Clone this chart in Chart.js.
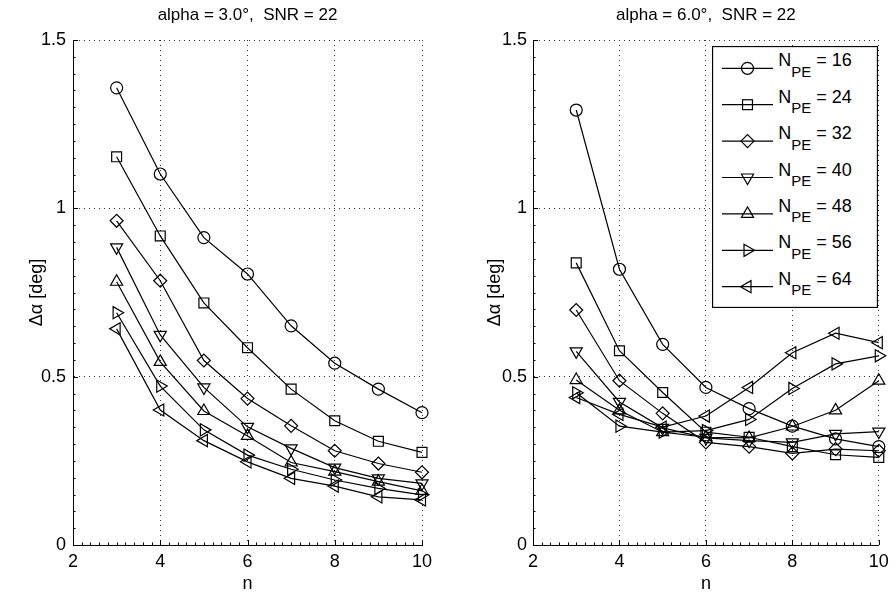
<!DOCTYPE html>
<html>
<head>
<meta charset="utf-8">
<script src="https://cdn.jsdelivr.net/npm/chart.js@4.4.0/dist/chart.umd.min.js"></script>
<style>
  html, body { margin: 0; padding: 0; background: #fff; }
  #wrap { position: relative; width: 895px; height: 595px; overflow: hidden; background: #fff; }
  canvas { position: absolute; top: 0; }
  #c1 { left: 0; }
  #c2 { left: 447px; }
  #legend { position: absolute; left: 712px; top: 46px; }
</style>
</head>
<body>
<div id="wrap">
  <canvas id="c1" width="447" height="595"></canvas>
  <canvas id="c2" width="448" height="595"></canvas>
  <svg id="legend" width="166" height="262" xmlns="http://www.w3.org/2000/svg"></svg>
</div>
<script>
// ---------------- data ----------------
const nValues = [3, 4, 5, 6, 7, 8, 9, 10];
const seriesNames = ['16', '24', '32', '40', '48', '56', '64'];
const xTicks = [2, 4, 6, 8, 10];
const yTicks = [0, 0.5, 1, 1.5];
const panelTitles = ['alpha = 3.0°,  SNR = 22', 'alpha = 6.0°,  SNR = 22'];
const xLabel = 'n';
const yLabel = 'Δα [deg]';

// alpha = 3.0 deg panel
const a3_N16 = [1.358, 1.102, 0.913, 0.805, 0.651, 0.540, 0.463, 0.393];
const a3_N24 = [1.153, 0.918, 0.719, 0.586, 0.463, 0.369, 0.308, 0.275];
const a3_N32 = [0.963, 0.785, 0.548, 0.435, 0.354, 0.280, 0.242, 0.216];
const a3_N40 = [0.884, 0.624, 0.468, 0.351, 0.287, 0.230, 0.198, 0.183];
const a3_N48 = [0.782, 0.544, 0.398, 0.324, 0.245, 0.218, 0.188, 0.161];
const a3_N56 = [0.690, 0.472, 0.342, 0.267, 0.225, 0.193, 0.168, 0.149];
const a3_N64 = [0.642, 0.401, 0.310, 0.247, 0.198, 0.175, 0.143, 0.134];

// alpha = 6.0 deg panel
const a6_N16 = [1.292, 0.819, 0.596, 0.468, 0.405, 0.353, 0.315, 0.292];
const a6_N24 = [0.838, 0.577, 0.453, 0.335, 0.320, 0.292, 0.268, 0.260];
const a6_N32 = [0.698, 0.488, 0.391, 0.305, 0.292, 0.272, 0.285, 0.280];
const a6_N40 = [0.575, 0.425, 0.348, 0.318, 0.310, 0.305, 0.330, 0.337];
const a6_N48 = [0.490, 0.400, 0.335, 0.320, 0.318, 0.352, 0.400, 0.488];
const a6_N56 = [0.452, 0.353, 0.335, 0.340, 0.373, 0.465, 0.538, 0.562];
const a6_N64 = [0.438, 0.388, 0.350, 0.383, 0.468, 0.571, 0.629, 0.601];

const panel1 = [a3_N16, a3_N24, a3_N32, a3_N40, a3_N48, a3_N56, a3_N64];
const panel2 = [a6_N16, a6_N24, a6_N32, a6_N40, a6_N48, a6_N56, a6_N64];

// ---------------- styles ----------------
const FONT = "'Liberation Sans', Arial, Helvetica, sans-serif";
const markerStyles = ['circle', 'rect', 'rectRot', 'triangle', 'triangle', 'triangle', 'triangle'];
const markerRotations = [0, 0, 0, 180, 0, 90, -90];
const markerRadii = [6, 7, 6.5, 7, 7, 7, 7];
const LW = 1.2;

Chart.defaults.font.family = FONT;
Chart.defaults.color = '#000';

const tickMarks = {
  id: 'tickMarks',
  afterDatasetsDraw(chart) {
    const { ctx, chartArea, scales } = chart;
    const x = scales.x, y = scales.y;
    ctx.save();
    ctx.strokeStyle = '#000';
    ctx.lineWidth = 1;
    ctx.beginPath();
    for (let i = 0; i <= 40; i++) {
      const v = x.min + i * 0.2;
      const px = Math.round(x.getPixelForValue(v)) + 0.5;
      const len = (i % 10 === 0) ? 5 : 2.5;
      ctx.moveTo(px, chartArea.bottom);
      ctx.lineTo(px, chartArea.bottom - len);
    }
    for (let i = 0; i <= 30; i++) {
      const v = y.min + i * 0.05;
      const py = Math.round(y.getPixelForValue(v)) + 0.5;
      const len = (i % 10 === 0) ? 5 : 2.5;
      ctx.moveTo(chartArea.left, py);
      ctx.lineTo(chartArea.left + len, py);
    }
    ctx.stroke();
    ctx.restore();
  }
};

function makeChart(canvasId, series, title, yAxisWidth, yTitlePad, rightPad, yTickPad) {
  const datasets = series.map((vals, i) => ({
    label: 'N_PE = ' + seriesNames[i],
    data: nValues.map((n, k) => ({ x: n, y: vals[k] })),
    borderColor: '#000',
    borderWidth: LW,
    tension: 0,
    fill: false,
    clip: false,
    pointStyle: markerStyles[i],
    rotation: markerRotations[i],
    pointRadius: markerRadii[i],
    pointBorderColor: '#000',
    pointBackgroundColor: 'rgba(0,0,0,0)',
    pointBorderWidth: LW
  }));
  return new Chart(document.getElementById(canvasId), {
    type: 'line',
    data: { datasets },
    plugins: [tickMarks],
    options: {
      responsive: false,
      animation: false,
      events: [],
      layout: { padding: { left: 0, right: rightPad, top: 0, bottom: 0 } },
      plugins: {
        legend: { display: false },
        tooltip: { enabled: false },
        title: {
          display: true,
          text: title,
          fullSize: false,
          color: '#000',
          font: { size: 17, weight: 'normal', family: FONT, lineHeight: 1.2 },
          padding: { top: 5, bottom: 14.6 }
        }
      },
      scales: {
        x: {
          type: 'linear',
          min: 2, max: 10,
          afterBuildTicks: s => { s.ticks = xTicks.map(v => ({ value: v })); },
          afterFit: s => { s.height = 50; },
          ticks: { font: { size: 18, family: FONT }, color: '#000', padding: 6.2, maxRotation: 0 },
          grid: { color: '#333', lineWidth: 1, drawTicks: false },
          border: { display: true, color: '#000', width: 1, dash: [1, 4] },
          title: { display: true, text: xLabel, color: '#000', font: { size: 18, family: FONT, lineHeight: 1.2 }, padding: { top: 0, bottom: 0.5 } }
        },
        y: {
          type: 'linear',
          min: 0, max: 1.5,
          afterBuildTicks: s => { s.ticks = yTicks.map(v => ({ value: v })); },
          afterFit: s => { s.width = yAxisWidth; },
          ticks: { font: { size: 18, family: FONT }, color: '#000', padding: yTickPad, callback: v => String(v) },
          grid: { color: '#333', lineWidth: 1, drawTicks: false },
          border: { display: true, color: '#000', width: 1, dash: [1, 4] },
          title: { display: true, text: yLabel, color: '#000', font: { size: 18, family: FONT, lineHeight: 1.2 }, padding: { top: yTitlePad, bottom: 0 } }
        }
      }
    }
  });
}

makeChart('c1', panel1, panelTitles[0], 73, 26.2, 25, 7);
makeChart('c2', panel2, panelTitles[1], 86, 37.2, 14, 6);

// ---------------- legend (SVG, real text) ----------------
(function buildLegend() {
  const svg = document.getElementById('legend');
  const NS = 'http://www.w3.org/2000/svg';
  const W = 165, H = 261;
  const box = document.createElementNS(NS, 'rect');
  box.setAttribute('x', 0.5); box.setAttribute('y', 0.5);
  box.setAttribute('width', W); box.setAttribute('height', H);
  box.setAttribute('fill', '#fff'); box.setAttribute('stroke', '#000'); box.setAttribute('stroke-width', 1.3);
  svg.appendChild(box);
  const rowY0 = 22.3, rowStep = 36.4, lx0 = 10, lx1 = 61, mx = 35.5, tx = 66.3;
  function markerPath(style, rot, r, cx, cy) {
    const el = (tag) => document.createElementNS(NS, tag);
    let shape;
    if (style === 'circle') {
      shape = el('circle'); shape.setAttribute('cx', cx); shape.setAttribute('cy', cy); shape.setAttribute('r', r);
    } else if (style === 'rect') {
      const s = r * Math.SQRT1_2;
      shape = el('rect'); shape.setAttribute('x', cx - s); shape.setAttribute('y', cy - s);
      shape.setAttribute('width', 2 * s); shape.setAttribute('height', 2 * s);
    } else if (style === 'rectRot') {
      shape = el('polygon');
      shape.setAttribute('points', `${cx - r},${cy} ${cx},${cy - r} ${cx + r},${cy} ${cx},${cy + r}`);
    } else {
      const pts = [];
      let a = rot * Math.PI / 180;
      for (let k = 0; k < 3; k++) {
        pts.push(`${cx + Math.sin(a) * r},${cy - Math.cos(a) * r}`);
        a += 2 * Math.PI / 3;
      }
      shape = el('polygon'); shape.setAttribute('points', pts.join(' '));
    }
    shape.setAttribute('fill', 'none'); shape.setAttribute('stroke', '#000'); shape.setAttribute('stroke-width', LW);
    return shape;
  }
  seriesNames.forEach((name, i) => {
    const cy = rowY0 + i * rowStep;
    const line = document.createElementNS(NS, 'line');
    line.setAttribute('x1', lx0); line.setAttribute('x2', lx1);
    line.setAttribute('y1', cy); line.setAttribute('y2', cy);
    line.setAttribute('stroke', '#000'); line.setAttribute('stroke-width', LW);
    svg.appendChild(line);
    svg.appendChild(markerPath(markerStyles[i], markerRotations[i], markerRadii[i], mx, cy));
    const t = document.createElementNS(NS, 'text');
    t.setAttribute('x', tx); t.setAttribute('y', cy - 2);
    t.setAttribute('font-family', FONT); t.setAttribute('font-size', 18); t.setAttribute('fill', '#000');
    const s1 = document.createElementNS(NS, 'tspan'); s1.textContent = 'N';
    const s2 = document.createElementNS(NS, 'tspan'); s2.textContent = 'PE'; s2.setAttribute('dy', 10.5); s2.setAttribute('font-size', 15);
    const s3 = document.createElementNS(NS, 'tspan'); s3.textContent = ' = ' + name; s3.setAttribute('dy', -10.5);
    t.appendChild(s1); t.appendChild(s2); t.appendChild(s3);
    svg.appendChild(t);
  });
})();
</script>
</body>
</html>
